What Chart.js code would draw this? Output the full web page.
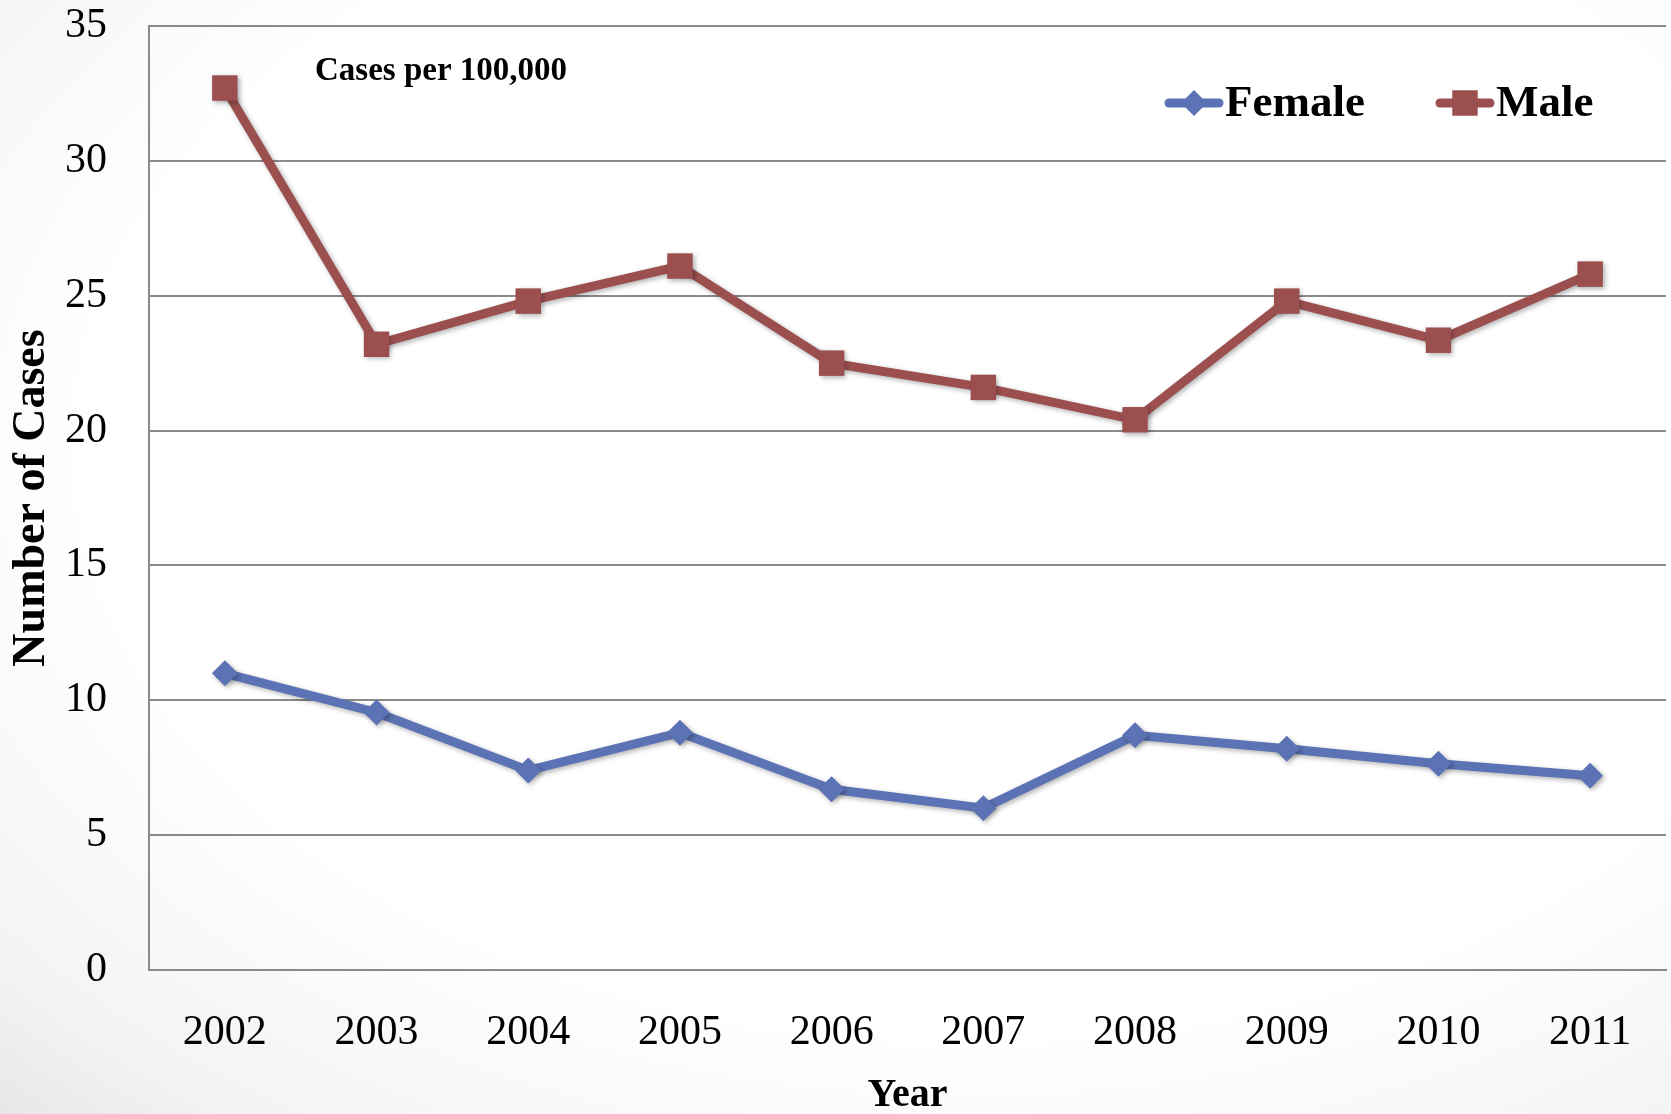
<!DOCTYPE html>
<html>
<head>
<meta charset="utf-8">
<script src="https://cdn.jsdelivr.net/npm/chart.js@4.4.1/dist/chart.umd.min.js"></script>
<style>
    html, body {
        margin: 0;
        padding: 0;
        width: 1671px;
        height: 1114px;
        overflow: hidden;
    }
    body {
        background: radial-gradient(ellipse 95% 95% at 58% 40%, #ffffff 55%, #f3f3f3 78%, #d8d8d8 100%);
    }
    #wrap {
        position: absolute;
        left: 0;
        top: 0;
        width: 1671px;
        height: 1114px;
    }
</style>
</head>
<body>
<div id="wrap"><canvas id="casesChart"></canvas></div>
<script>
var years = ['2002', '2003', '2004', '2005', '2006', '2007', '2008', '2009', '2010', '2011'];
var femaleCases = [11.0, 9.55, 7.4, 8.8, 6.7, 6.0, 8.7, 8.2, 7.65, 7.2];
var maleCases = [32.7, 23.2, 24.8, 26.1, 22.5, 21.6, 20.4, 24.8, 23.35, 25.8];
var yTicks = [0, 5, 10, 15, 20, 25, 30, 35];

var femaleColor = '#5b72b4';
var maleColor = '#9b4f4f';
var serif = '"Liberation Serif", "DejaVu Serif", serif';

// soft drop shadow under lines and markers
var shadowPlugin = {
    id: 'shadow',
    beforeDatasetsDraw: function (chart) {
        var ctx = chart.ctx;
        ctx.save();
        ctx.shadowColor = 'rgba(0,0,0,0.3)';
        ctx.shadowBlur = 5;
        ctx.shadowOffsetX = 2;
        ctx.shadowOffsetY = 2;
    },
    afterDatasetsDraw: function (chart) {
        chart.ctx.restore();
    }
};

// legend with line + marker, and the "Cases per 100,000" note
var notesPlugin = {
    id: 'notes',
    afterDraw: function (chart) {
        var ctx = chart.ctx;
        ctx.save();

        ctx.fillStyle = '#000';
        ctx.font = 'bold 33px ' + serif;
        ctx.textAlign = 'left';
        ctx.textBaseline = 'middle';
        ctx.fillText('Cases per 100,000', 315, 71);

        var items = [
            {label: 'Female', color: femaleColor, style: 'rectRot', radius: 13, x: 1165},
            {label: 'Male', color: maleColor, style: 'rect', radius: 18, x: 1436}
        ];
        var y = 103;
        items.forEach(function (item) {
            ctx.strokeStyle = item.color;
            ctx.fillStyle = item.color;
            ctx.lineWidth = 9;
            ctx.lineCap = 'round';
            ctx.beginPath();
            ctx.moveTo(item.x + 4, y);
            ctx.lineTo(item.x + 54, y);
            ctx.stroke();
            Chart.helpers.drawPoint(ctx, {pointStyle: item.style, radius: item.radius, borderWidth: 0}, item.x + 29, y);
            ctx.fillStyle = '#000';
            ctx.font = 'bold 45px ' + serif;
            ctx.textBaseline = 'middle';
            ctx.fillText(item.label, item.x + 60, y + 1);
        });

        ctx.restore();
    }
};

new Chart(document.getElementById('casesChart'), {
    type: 'line',
    data: {
        labels: years,
        datasets: [{
            label: 'Female',
            data: femaleCases,
            borderColor: femaleColor,
            backgroundColor: femaleColor,
            borderWidth: 9,
            pointStyle: 'rectRot',
            pointRadius: 13,
            pointBorderWidth: 0,
            tension: 0
        }, {
            label: 'Male',
            data: maleCases,
            borderColor: maleColor,
            backgroundColor: maleColor,
            borderWidth: 9,
            pointStyle: 'rect',
            pointRadius: 18,
            pointBorderWidth: 0,
            tension: 0
        }]
    },
    options: {
        responsive: true,
        maintainAspectRatio: false,
        animation: false,
        layout: {
            autoPadding: false,
            padding: {left: 0, top: 26, right: 5, bottom: 0}
        },
        scales: {
            x: {
                offset: true,
                grid: {
                    display: true,
                    color: 'rgba(0,0,0,0)',
                    tickColor: 'rgba(0,0,0,0)',
                    drawTicks: true,
                    tickLength: 38
                },
                border: {
                    display: true,
                    color: '#8a8a8a',
                    width: 2
                },
                ticks: {
                    color: '#000',
                    padding: 0,
                    maxRotation: 0,
                    font: {family: serif, size: 42}
                },
                title: {
                    display: true,
                    text: 'Year',
                    color: '#000',
                    padding: {top: 0, bottom: 0},
                    font: {family: serif, size: 40, weight: 'bold', lineHeight: 0.9}
                },
                afterFit: function (axis) {
                    axis.height = 144;
                }
            },
            y: {
                min: 0,
                max: 35,
                afterBuildTicks: function (axis) {
                    axis.ticks = yTicks.map(function (v) { return {value: v}; });
                },
                grid: {
                    color: '#8a8a8a',
                    lineWidth: 2,
                    tickColor: 'rgba(0,0,0,0)',
                    drawTicks: true,
                    tickLength: 42
                },
                border: {
                    display: true,
                    color: '#8a8a8a',
                    width: 2
                },
                ticks: {
                    color: '#000',
                    padding: 0,
                    font: {family: serif, size: 42}
                },
                title: {
                    display: true,
                    text: 'Number of Cases',
                    color: '#000',
                    padding: {top: 5, bottom: 0},
                    font: {family: serif, size: 46, weight: 'bold'}
                },
                afterFit: function (axis) {
                    axis.width = 149;
                }
            }
        },
        plugins: {
            legend: {display: false},
            tooltip: {enabled: false}
        }
    },
    plugins: [shadowPlugin, notesPlugin]
});
</script>
</body>
</html>
